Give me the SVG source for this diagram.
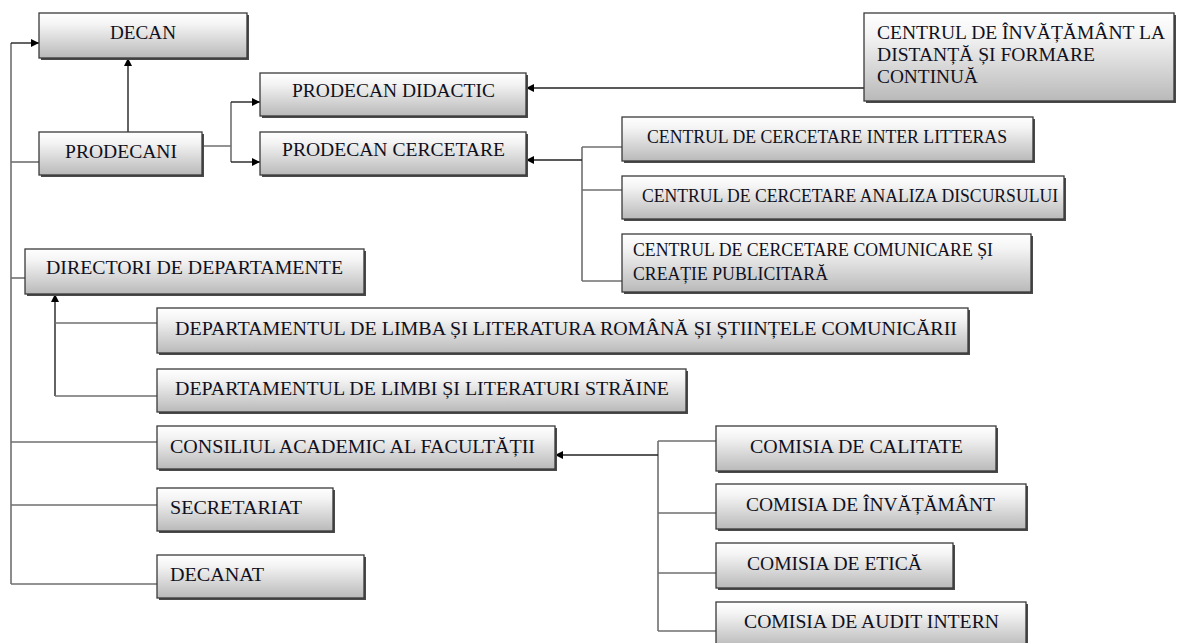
<svg xmlns="http://www.w3.org/2000/svg" width="1177" height="643" viewBox="0 0 1177 643" font-family="'Liberation Serif', 'Times New Roman', 'DejaVu Serif', serif">
<defs>
<linearGradient id="g" x1="0" y1="0" x2="0" y2="1">
<stop offset="0" stop-color="#ffffff"/>
<stop offset="0.25" stop-color="#f4f4f4"/>
<stop offset="1" stop-color="#b9b9b9"/>
</linearGradient>
<marker id="ah" viewBox="0 0 10 10" refX="10" refY="5" markerWidth="9" markerHeight="8" markerUnits="userSpaceOnUse" orient="auto">
<path d="M0,0 L10,5 L0,10 z" fill="#000"/>
</marker>
</defs>
<style>
.b{fill:url(#g);stroke:#3a3a3a;stroke-width:1.3}
.s{fill:#4a4a4a}
text{font-size:19px;fill:#101020}
.c{fill:none;stroke:#707070;stroke-width:1.6}
.a{fill:none;stroke:#222;stroke-width:1.4;marker-end:url(#ah)}
</style>
<g id="connectors">
<path class="c" d="M11,43 V584"/>
<path class="a" d="M11,43 H39"/>
<path class="c" d="M11,162 H39"/>
<path class="a" d="M128,132 V58"/>
<path class="c" d="M202,146 H231 M231,102 V162"/>
<path class="a" d="M231,102 H260"/>
<path class="a" d="M231,162 H260"/>
<path class="a" d="M864,88 H526"/>
<path class="c" d="M582,147 V281 M582,147 H622 M582,190 H622 M582,281 H622"/>
<path class="a" d="M582,160 H526"/>
<path class="c" d="M11,278 H25"/>
<path class="a" d="M55,396 V294"/>
<path class="c" d="M55,323 H157 M55,396 H157"/>
<path class="c" d="M11,442 H157 M11,505 H157 M11,584 H157"/>
<path class="c" d="M658,441 V631 M658,441 H716 M658,513 H716 M658,573 H716 M658,631 H716"/>
<path class="a" d="M658,455 H555"/>
</g>
<g id="decan"><rect class="s" x="41" y="15" width="208" height="45"/><rect class="b" x="39" y="13" width="208" height="45"/><text x="110" y="39" textLength="66" lengthAdjust="spacingAndGlyphs">DECAN</text></g>
<g id="prodecani"><rect class="s" x="41" y="134" width="163" height="43"/><rect class="b" x="39" y="132" width="163" height="43"/><text x="65" y="158" textLength="112" lengthAdjust="spacingAndGlyphs">PRODECANI</text></g>
<g id="prodecan-didactic"><rect class="s" x="262" y="75" width="266" height="43"/><rect class="b" x="260" y="73" width="266" height="43"/><text x="292" y="97" textLength="203" lengthAdjust="spacingAndGlyphs">PRODECAN DIDACTIC</text></g>
<g id="prodecan-cercetare"><rect class="s" x="262" y="134" width="266" height="43"/><rect class="b" x="260" y="132" width="266" height="43"/><text x="282" y="156" textLength="223" lengthAdjust="spacingAndGlyphs">PRODECAN CERCETARE</text></g>
<g id="centrul-id"><rect class="s" x="866" y="15" width="310" height="88"/><rect class="b" x="864" y="13" width="310" height="88"/>
<text x="877" y="39" textLength="288" lengthAdjust="spacingAndGlyphs">CENTRUL DE ÎNVĂȚĂMÂNT LA</text>
<text x="877" y="61" textLength="218" lengthAdjust="spacingAndGlyphs">DISTANȚĂ ȘI FORMARE</text>
<text x="877" y="83" textLength="101" lengthAdjust="spacingAndGlyphs">CONTINUĂ</text></g>
<g id="centru-inter"><rect class="s" x="624" y="119" width="411" height="44"/><rect class="b" x="622" y="117" width="411" height="44"/><text x="647" y="143" textLength="360" lengthAdjust="spacingAndGlyphs">CENTRUL DE CERCETARE INTER LITTERAS</text></g>
<g id="centru-analiza"><rect class="s" x="624" y="178" width="442" height="43"/><rect class="b" x="622" y="176" width="442" height="43"/><text x="642" y="202" textLength="416" lengthAdjust="spacingAndGlyphs">CENTRUL DE CERCETARE ANALIZA DISCURSULUI</text></g>
<g id="centru-comunicare"><rect class="s" x="624" y="236" width="409" height="58"/><rect class="b" x="622" y="234" width="409" height="58"/>
<text x="633" y="256" textLength="360" lengthAdjust="spacingAndGlyphs">CENTRUL DE CERCETARE COMUNICARE ȘI</text>
<text x="633" y="280" textLength="195" lengthAdjust="spacingAndGlyphs">CREAȚIE PUBLICITARĂ</text></g>
<g id="directori"><rect class="s" x="27" y="251" width="339" height="45"/><rect class="b" x="25" y="249" width="339" height="45"/><text x="46" y="274" textLength="297" lengthAdjust="spacingAndGlyphs">DIRECTORI DE DEPARTAMENTE</text></g>
<g id="dept-romana"><rect class="s" x="159" y="310" width="811" height="45"/><rect class="b" x="157" y="308" width="811" height="45"/><text x="175" y="335" textLength="782" lengthAdjust="spacingAndGlyphs">DEPARTAMENTUL DE LIMBA ȘI LITERATURA ROMÂNĂ ȘI ȘTIINȚELE COMUNICĂRII</text></g>
<g id="dept-straine"><rect class="s" x="159" y="371" width="529" height="43"/><rect class="b" x="157" y="369" width="529" height="43"/><text x="175" y="395" textLength="494" lengthAdjust="spacingAndGlyphs">DEPARTAMENTUL DE LIMBI ȘI LITERATURI STRĂINE</text></g>
<g id="consiliul"><rect class="s" x="159" y="428" width="398" height="43"/><rect class="b" x="157" y="426" width="398" height="43"/><text x="170" y="453" textLength="365" lengthAdjust="spacingAndGlyphs">CONSILIUL ACADEMIC AL FACULTĂȚII</text></g>
<g id="secretariat"><rect class="s" x="159" y="490" width="176" height="43"/><rect class="b" x="157" y="488" width="176" height="43"/><text x="170" y="514" textLength="132" lengthAdjust="spacingAndGlyphs">SECRETARIAT</text></g>
<g id="decanat"><rect class="s" x="159" y="557" width="207" height="43"/><rect class="b" x="157" y="555" width="207" height="43"/><text x="170" y="581" textLength="94" lengthAdjust="spacingAndGlyphs">DECANAT</text></g>
<g id="comisia-calitate"><rect class="s" x="718" y="428" width="280" height="45"/><rect class="b" x="716" y="426" width="280" height="45"/><text x="750" y="453" textLength="213" lengthAdjust="spacingAndGlyphs">COMISIA DE CALITATE</text></g>
<g id="comisia-invatamant"><rect class="s" x="718" y="486" width="310" height="45"/><rect class="b" x="716" y="484" width="310" height="45"/><text x="746" y="511" textLength="249" lengthAdjust="spacingAndGlyphs">COMISIA DE ÎNVĂȚĂMÂNT</text></g>
<g id="comisia-etica"><rect class="s" x="718" y="545" width="237" height="45"/><rect class="b" x="716" y="543" width="237" height="45"/><text x="747" y="570" textLength="175" lengthAdjust="spacingAndGlyphs">COMISIA DE ETICĂ</text></g>
<g id="comisia-audit"><rect class="s" x="718" y="604" width="310" height="45"/><rect class="b" x="716" y="602" width="310" height="45"/><text x="744" y="628" textLength="255" lengthAdjust="spacingAndGlyphs">COMISIA DE AUDIT INTERN</text></g>
</svg>
